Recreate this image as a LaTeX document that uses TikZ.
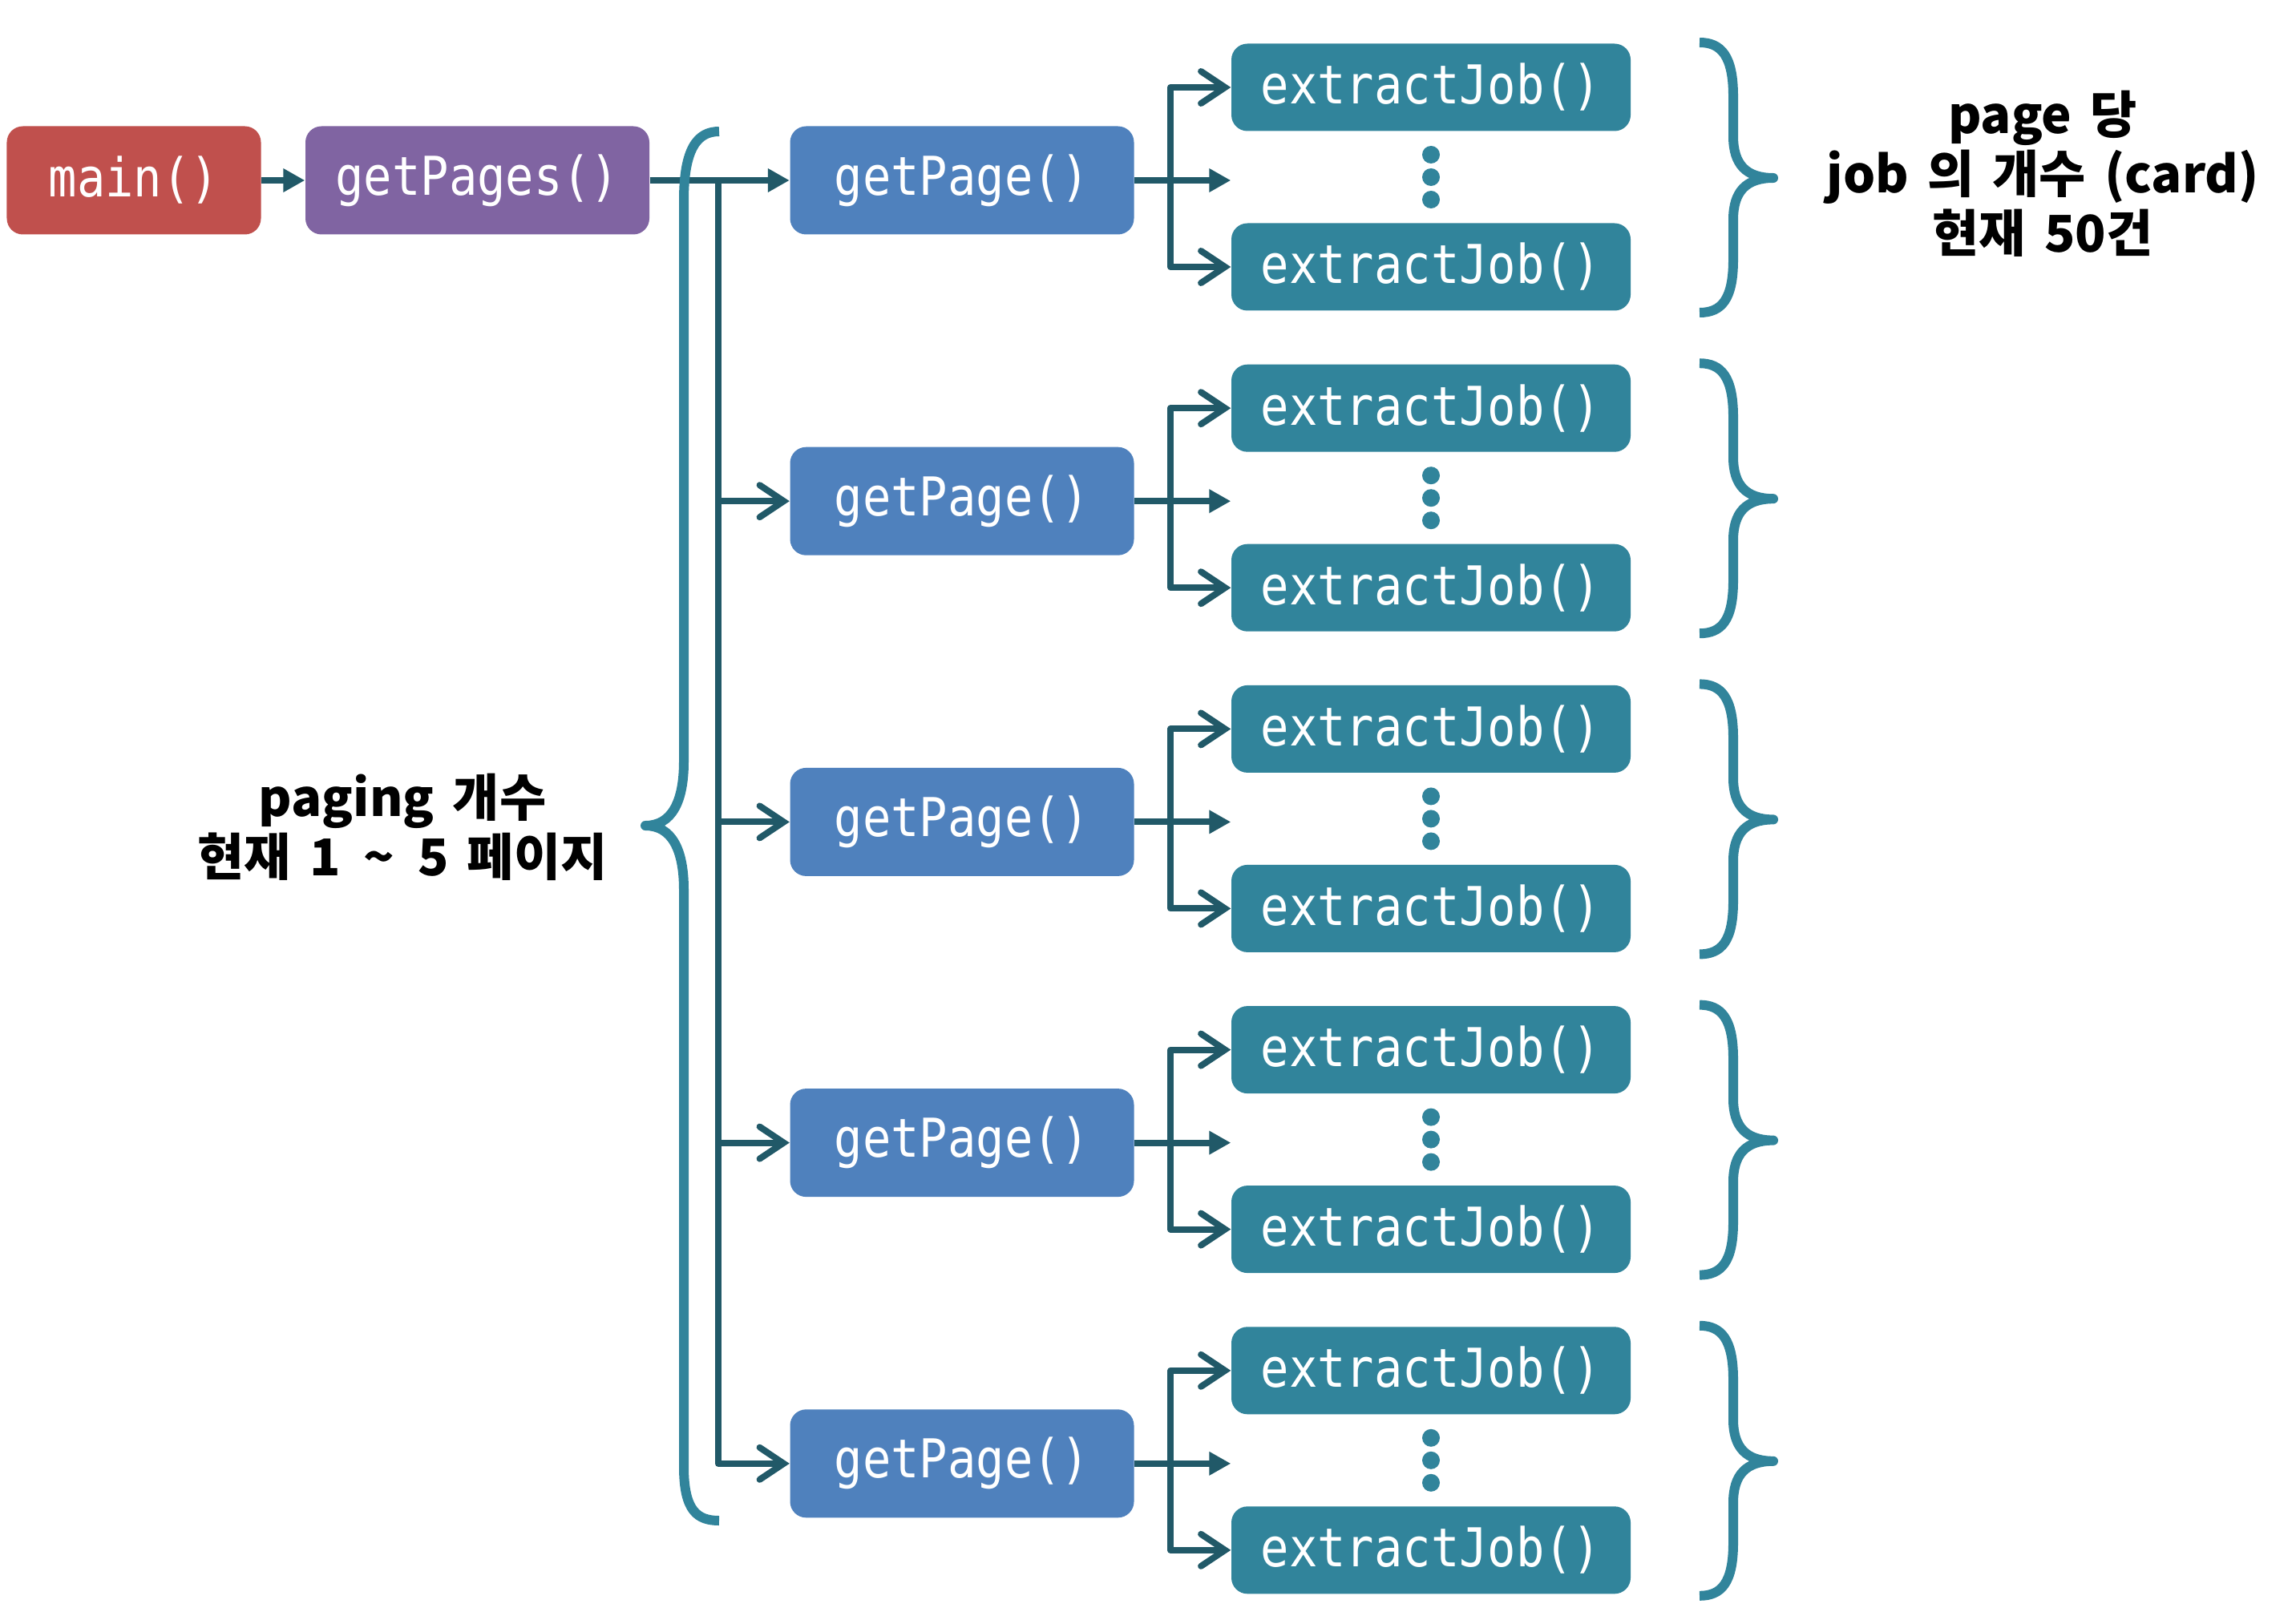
\documentclass[tikz,border=0pt]{standalone}
\usepackage{fontspec}
\setmonofont{DejaVu Sans Mono}[FakeStretch=0.88]
\newfontfamily\kr{Noto Sans CJK KR}[WordSpace=1.6]
\usetikzlibrary{arrows.meta}
\definecolor{mainred}{HTML}{C0504D}
\definecolor{pagespurple}{HTML}{8064A2}
\definecolor{pageblue}{HTML}{4F81BD}
\definecolor{jobteal}{HTML}{31849B}
\definecolor{linkteal}{HTML}{215968}
\begin{document}
\begin{tikzpicture}[
  every node/.style={text=white,font=\ttfamily\fontsize{19pt}{22pt}\selectfont,rounded corners=0.2cm,inner sep=0pt},
  fnbox/.style={minimum width=#1,minimum height=1.35cm},
  jobbox/.style={fill=jobteal,minimum width=4.98cm,minimum height=1.09cm},
  link/.style={draw=linkteal,line width=0.08cm,line join=round},
  filledhead/.style={-{Triangle[length=0.27cm,width=0.28cm]}},
  barbhead/.style={-{Straight Barb[length=0.3cm,width=0.4cm,line cap=round]}},
  curly/.style={draw=jobteal,line width=0.12cm,line join=round},
  note/.style={text=black,font=\kr\bfseries\fontsize{18pt}{21pt}\selectfont,align=center}]
\useasboundingbox (0,0) rectangle (28.64,-20.21);
\node[fill=mainred,fnbox=3.17cm] (main) at (1.67,-2.25) {main()};
\node[fill=pagespurple,fnbox=4.29cm] (pages) at (5.955,-2.25) {getPages()};
\foreach \i in {1,...,5} {
  \pgfmathsetmacro\y{-2.25-4.002*(\i-1)}
  \node[fill=pageblue,fnbox=4.29cm] (p\i) at (12.00,\y) {getPage()};
  \node[jobbox] (ja\i) at (17.85,\y+1.16) {extractJob()};
  \node[jobbox] (jb\i) at (17.85,\y-1.08) {extractJob()};
  \foreach \k in {0.32,0.04,-0.24}
    \fill[jobteal] (17.85,\y+\k) circle (0.11);
  \coordinate (b\i) at (14.60,\y);
  \draw[link,filledhead] (p\i) -- (p\i -| ja\i.west);
  \draw[link,barbhead] (b\i) |- (ja\i);
  \draw[link,barbhead] (b\i) |- (jb\i);
  \draw[curly,shift={(0,\y)}] (21.20,1.72) .. controls (21.47,1.72) and (21.62,1.55) .. (21.62,1.05)
    -- (21.62,0.55) .. controls (21.62,0.20) and (21.78,0.03) .. (22.12,0.03)
    .. controls (21.78,0.03) and (21.62,-0.14) .. (21.62,-0.49)
    -- (21.62,-0.99) .. controls (21.62,-1.49) and (21.47,-1.65) .. (21.20,-1.65);
}
\draw[link,filledhead] (main) -- (pages);
\draw[link,filledhead] (pages) -- (p1);
\coordinate (fork) at (8.96,-2.25);
\foreach \i in {2,...,5}
  \draw[link,barbhead] (fork) |- (p\i);
\draw[curly] (8.97,-1.64) .. controls (8.70,-1.64) and (8.53,-1.85) .. (8.53,-2.50)
  -- (8.53,-9.50) .. controls (8.53,-10.00) and (8.38,-10.30) .. (8.05,-10.30)
  .. controls (8.38,-10.30) and (8.53,-10.60) .. (8.53,-11.10)
  -- (8.53,-18.30) .. controls (8.53,-18.85) and (8.70,-18.97) .. (8.97,-18.97);
\node[note] (pagingnote) at (5.02,-10.32) {paging 개수\\현재 1\hspace{0.29cm}\textasciitilde\hspace{0.29cm}5 페이지};
\node[note] (jobnote) at (25.48,-2.17) {page 당\\job 의 개수 (card)\\현재 50건};
\end{tikzpicture}
\end{document}
